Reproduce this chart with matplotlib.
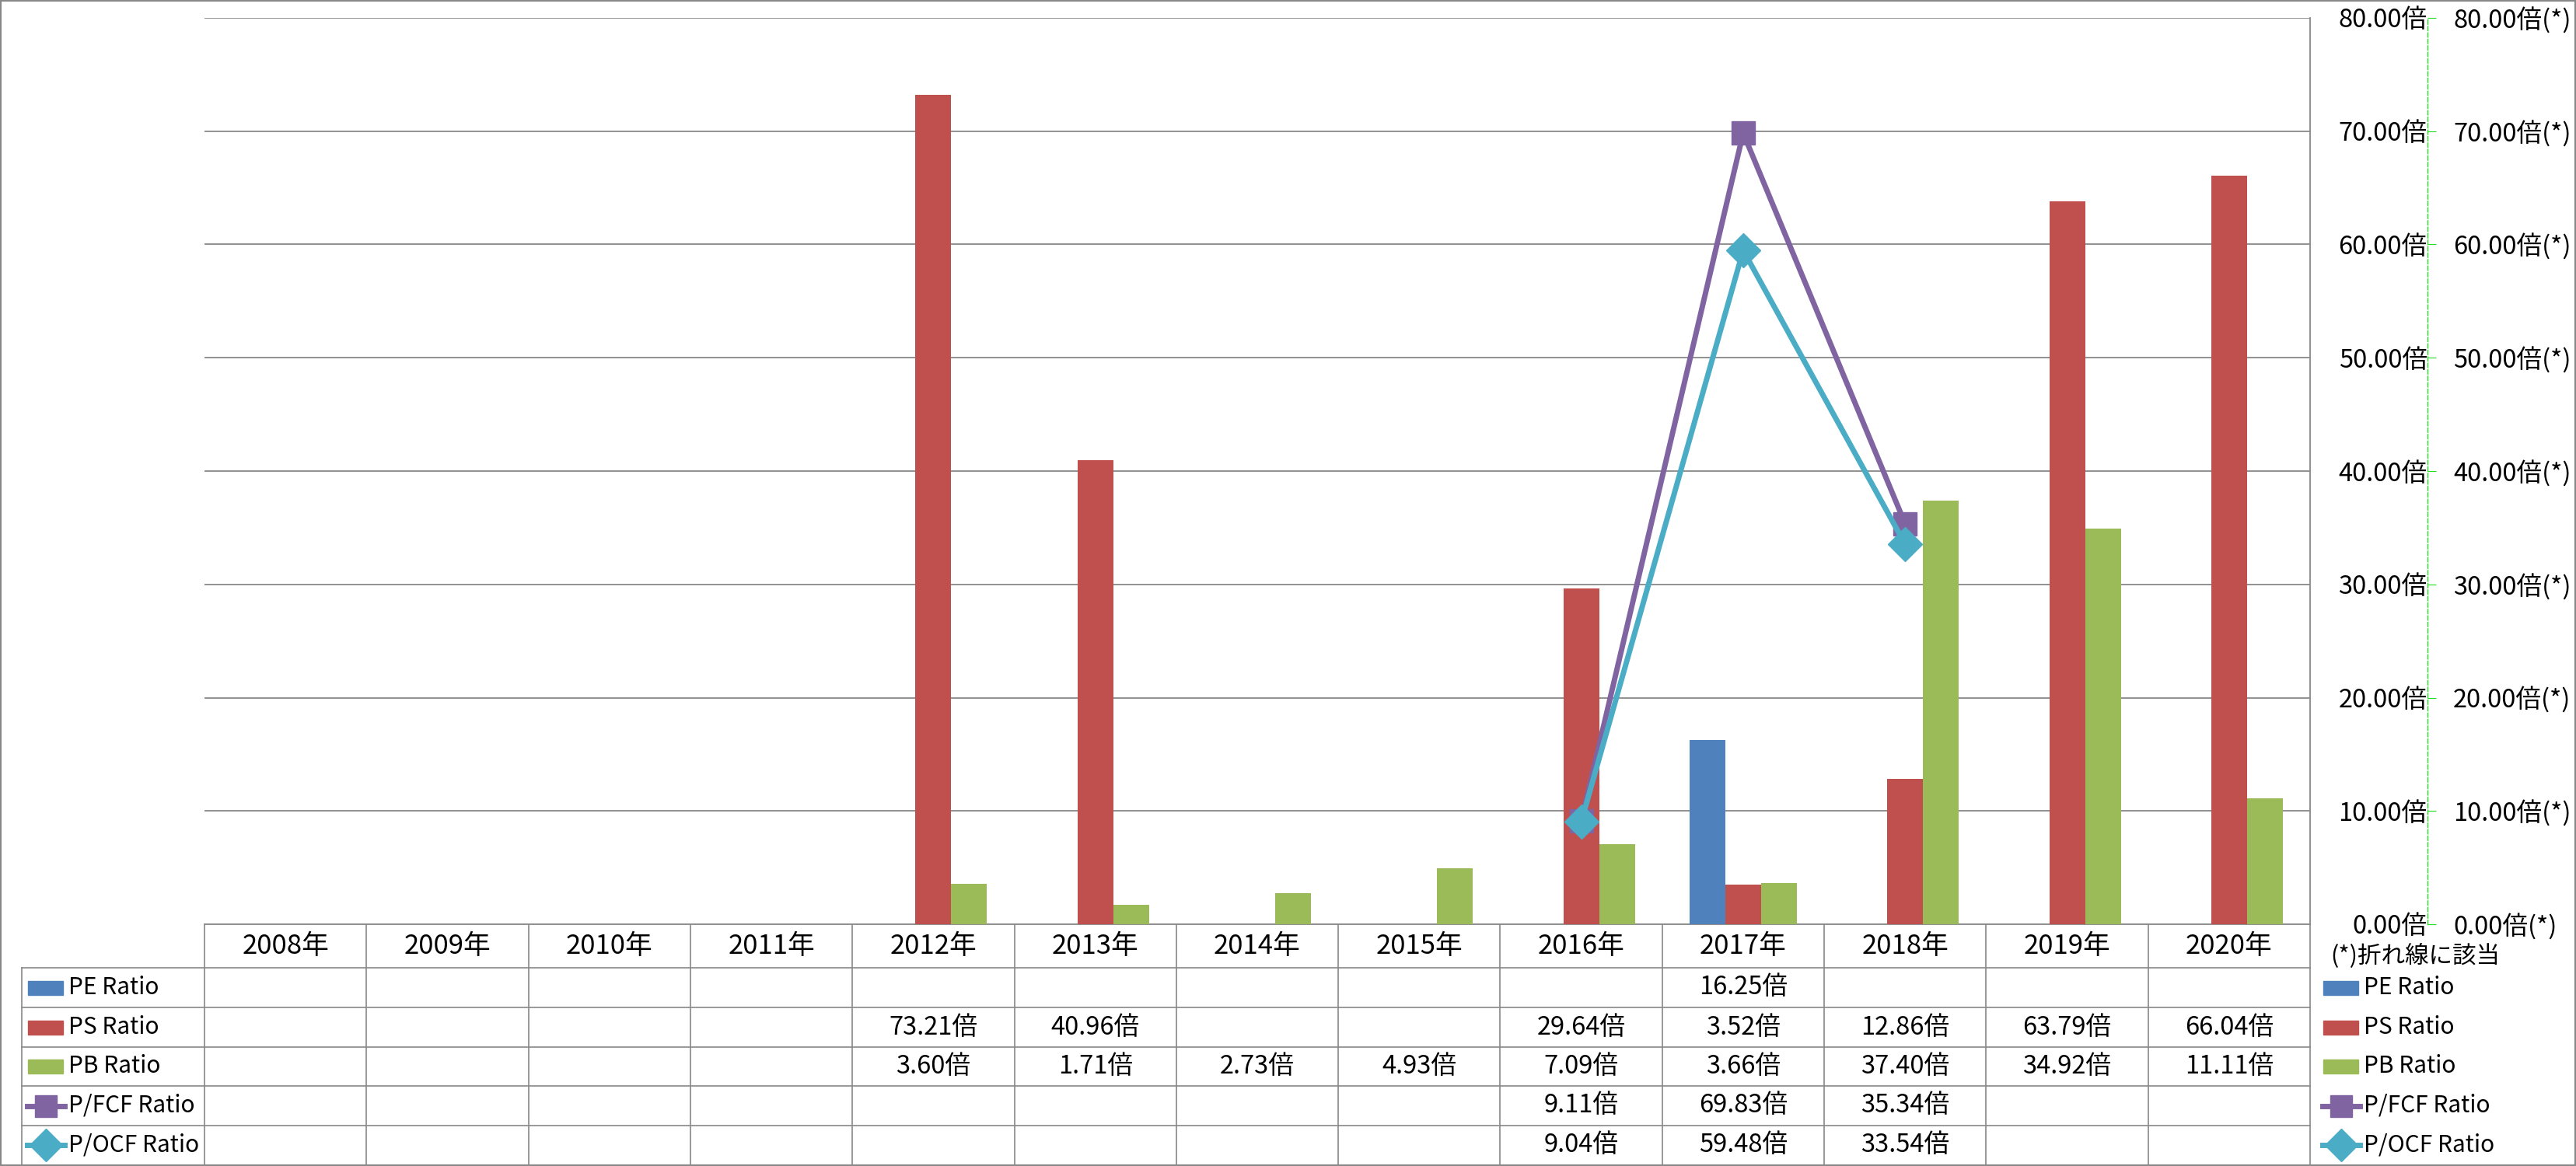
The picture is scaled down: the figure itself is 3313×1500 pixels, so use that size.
import matplotlib
matplotlib.use("Agg")
import matplotlib.pyplot as plt
import numpy as np
from matplotlib.lines import Line2D
from matplotlib.patches import Rectangle
from matplotlib.transforms import blended_transform_factory

plt.rcParams['font.family'] = ['Noto Sans CJK JP', 'DejaVu Sans']

nan = np.nan
years = ["2008年", "2009年", "2010年", "2011年", "2012年", "2013年", "2014年",
         "2015年", "2016年", "2017年", "2018年", "2019年", "2020年"]
pe = [nan, nan, nan, nan, nan, nan, nan, nan, nan, 16.25, nan, nan, nan]
ps = [nan, nan, nan, nan, 73.21, 40.96, nan, nan, 29.64, 3.52, 12.86, 63.79, 66.04]
pb = [nan, nan, nan, nan, 3.60, 1.71, 2.73, 4.93, 7.09, 3.66, 37.40, 34.92, 11.11]
pfcf = [nan, nan, nan, nan, nan, nan, nan, nan, 9.11, 69.83, 35.34, nan, nan]
pocf = [nan, nan, nan, nan, nan, nan, nan, nan, 9.04, 59.48, 33.54, nan, nan]
names = ["PE Ratio", "PS Ratio", "PB Ratio", "P/FCF Ratio", "P/OCF Ratio"]
colors = ["#4F81BD", "#C0504D", "#9BBB59", "#8064A2", "#4BACC6"]
yticks = [0, 10, 20, 30, 40, 50, 60, 70, 80]

W, H = 3313, 1500
def fx(px):
    return px / W
def fy(py):
    return 1 - py / H

grey = "#888888"
fs = 23.5
lw_line = 5
ms_sq, ms_dia = 21, 22

fig = plt.figure(figsize=(W / 100, H / 100), dpi=100)
ax = fig.add_axes([fx(263), fy(1189), (2971 - 263) / W, (1189 - 23) / H])

x = np.arange(len(years))
bw = 0.221
for k, vals in enumerate([pe, ps, pb]):
    ax.bar(x + (k - 1) * bw, vals, bw, color=colors[k], zorder=3)

ax.set_xlim(-0.5, len(years) - 0.5)
ax.set_ylim(0, 80)
ax.set_xticks([])
ax.grid(axis='y', color=grey, lw=1.3, zorder=0)
ax.set_axisbelow(True)
for s in ["left", "top"]:
    ax.spines[s].set_visible(False)
ax.spines["right"].set_color(grey)
ax.spines["bottom"].set_color(grey)
ax.spines["right"].set_linewidth(1.3)
ax.spines["bottom"].set_linewidth(1.3)

ax2 = ax.twinx()
ax2.set_ylim(0, 80)
ax2.plot(x, pfcf, color=colors[3], lw=lw_line, marker="s", ms=ms_sq, mec=colors[3])
ax2.plot(x, pocf, color=colors[4], lw=lw_line, marker="D", ms=ms_dia, mec=colors[4])
for s in ["left", "top", "bottom"]:
    ax2.spines[s].set_visible(False)
ax2.spines["right"].set_position(("outward", 108.5))
ax2.spines["right"].set_color("#22dd22")
ax2.spines["right"].set_linestyle((0, (4, 2)))
ax2.spines["right"].set_linewidth(1)
ax2.set_yticks(yticks, labels=["%.2f倍(*)" % v for v in yticks])
ax2.tick_params(axis='y', direction='out', length=8, color="#22dd22",
                pad=16, labelsize=fs)

# primary axis labels sit right of the plot, right-aligned
ax.set_yticks(yticks, labels=["%.2f倍" % v for v in yticks])
ax.tick_params(axis='y', left=False, right=False, labelleft=False,
               labelright=True, pad=105, labelsize=fs)
for t in ax.yaxis.get_major_ticks():
    t.label2.set_horizontalalignment("right")

# data table
rows = [1189, 1245, 1296, 1347, 1397, 1448, 1498]
trans = blended_transform_factory(ax.transData, fig.transFigure)
for r in rows[1:-1]:
    fig.add_artist(Line2D([fx(28), fx(2971)], [fy(r), fy(r)], color=grey, lw=1.2,
                          transform=fig.transFigure))
fig.add_artist(Line2D([fx(28), fx(28)], [fy(1245), fy(1498)], color=grey, lw=1.2,
                      transform=fig.transFigure))
for i in range(len(years) + 1):
    fig.add_artist(Line2D([i - 0.5, i - 0.5], [fy(1189), fy(1498)], color=grey,
                          lw=1.2, transform=trans))
for i, yr in enumerate(years):
    fig.text(i, fy((rows[0] + rows[1]) / 2), yr, transform=trans, ha="center",
             va="center", fontsize=25)
series = [pe, ps, pb, pfcf, pocf]
for r, vals in enumerate(series):
    yc = fy((rows[r + 1] + rows[r + 2]) / 2)
    for i, v in enumerate(vals):
        if not np.isnan(v):
            fig.text(i, yc, "%.2f倍" % v, transform=trans, ha="center",
                     va="center", fontsize=fs)

# legend keys (table left and right side)
def key(x0, r):
    yc = fy((rows[r + 1] + rows[r + 2]) / 2)
    if r < 3:
        fig.add_artist(Rectangle((fx(x0), yc - 9 / H), 45 / W, 18 / H,
                                 color=colors[r], transform=fig.transFigure))
    else:
        fig.add_artist(Line2D([fx(x0 - 1), fx(x0 + 47)], [yc, yc], color=colors[r],
                              lw=lw_line, transform=fig.transFigure))
        fig.add_artist(Line2D([fx(x0 + 23)], [yc], color=colors[r],
                              marker="s" if r == 3 else "D",
                              ms=20 if r == 3 else 21, transform=fig.transFigure))
    fig.text(fx(x0 + 52), yc, names[r], ha="left", va="center", fontsize=21.5)

for r in range(5):
    key(36, r)
    key(2988, r)

fig.text(fx(2997), fy(1230), "(*)折れ線に該当", ha="left", va="center", fontsize=22)

fig.add_artist(Rectangle((0, 0), 1, 1, fill=False, ec=grey, lw=3,
                         transform=fig.transFigure))

fig.savefig("out.png", dpi=100)
